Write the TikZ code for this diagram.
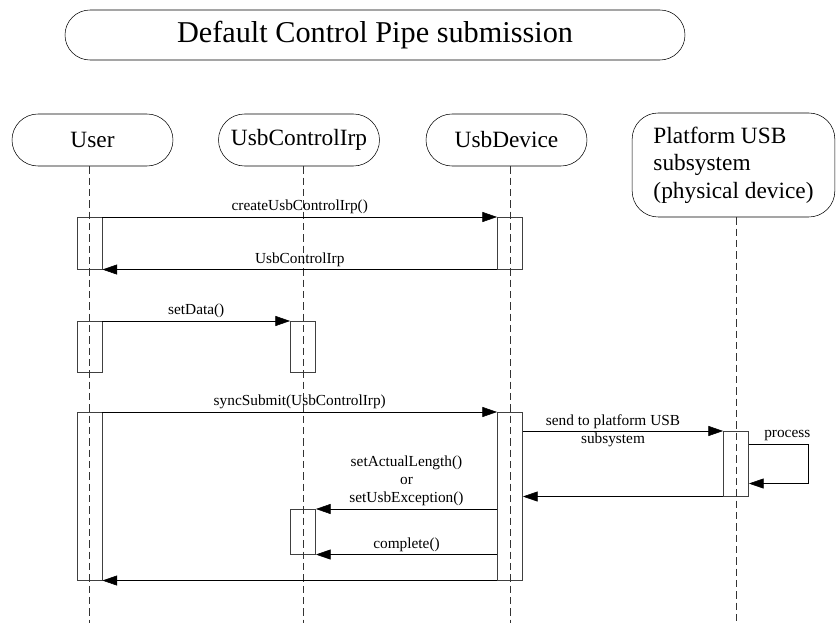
\documentclass[tikz,border=0pt]{standalone}
\usepackage{fontspec}
\setmainfont{Liberation Serif}
\usetikzlibrary{arrows.meta,positioning,calc}

\begin{document}
\begin{tikzpicture}[x=.75pt, y=-.75pt,
  lane/.style={draw, rounded corners=19.5pt, minimum width=120.75pt, minimum height=39pt, font=\fontsize{17.5}{20.6}\selectfont},
  act/.style={draw=black!75, minimum width=19pt, anchor=north, inner sep=0pt},
  life/.style={draw=black!80, dash pattern=on 5.5pt off 3pt},
  msg/.style={-{Triangle[length=11pt,width=7.5pt]}},
  lbl/.style={font=\fontsize{11.5}{13.5}\selectfont, inner sep=2pt, align=center}]
\useasboundingbox (0,0) rectangle (836,623);
\coordinate (bottom) at (0,623);

% title
\node[draw, rounded corners=18.75pt, minimum width=465pt, minimum height=37.5pt, font=\fontsize{22.7}{27}\selectfont] (title) at (375,35) {Default Control Pipe submission};

% objects
\node[lane] (user) at (92.5,140) {User};
\node[lane] (irp) at (299,140) {UsbControlIrp};
\node[lane, align=left, minimum width=152pt, minimum height=78pt] (plat) at (733.5,165) {Platform USB\\subsystem\\(physical device)};
\node[lane] (dev) at (506.5,140) {UsbDevice};

% activations
\node[act, minimum height=39pt] (u1) at (89.5,217) {};
\node[act, minimum height=39pt] (d1) at (510,217) {};
\node[act, minimum height=38.25pt] (u2) at (89.5,321) {};
\node[act, minimum height=38.25pt] (c1) at (303,321) {};
\node[act, minimum height=126pt] (u3) at (89.5,412) {};
\node[act, minimum height=126pt] (d2) at (510,412) {};
\node[act, minimum height=48.75pt] (p1) at (736,431) {};
\node[act, minimum height=33.75pt] (c2) at (303,509) {};

% lifelines
\draw[life] (user.south -| u1) -- (u1 |- bottom);
\draw[life] (irp.south -| c1) -- (c1 |- bottom);
\draw[life] (dev.south -| d1) -- (d1 |- bottom);
\draw[life] (plat.south -| p1) -- (p1 |- bottom);

% messages
\draw[msg] (u1.north east) -- node[lbl, above] {createUsbControlIrp()} (d1.north west);
\draw[msg] (d1.south west) -- node[lbl, above] {UsbControlIrp} (u1.south east);
\draw[msg] (u2.north east) -- node[lbl, above] {setData()} (c1.north west);
\draw[msg] (u3.north east) -- node[lbl, above] {syncSubmit(UsbControlIrp)} (d2.north west);
\draw[msg] (d2.east |- p1.north) -- node[lbl, pos=.45] {send to platform USB\\subsystem} (p1.north west);
\draw[msg] ([yshift=-9.75pt]p1.north east) -- node[lbl, above, pos=.65] {process} ++(59,0) |- ([yshift=9.75pt]p1.south east);
\draw[msg] (p1.south west) -- (d2.east |- p1.south);
\draw[msg] (d2.west |- c2.north) -- node[lbl, above] {setActualLength()\\or\\setUsbException()} (c2.north east);
\draw[msg] (d2.west |- c2.south) -- node[lbl, above] {complete()} (c2.south east);
\draw[msg] (d2.south west) -- (u3.south east);

\end{tikzpicture}
\end{document}
